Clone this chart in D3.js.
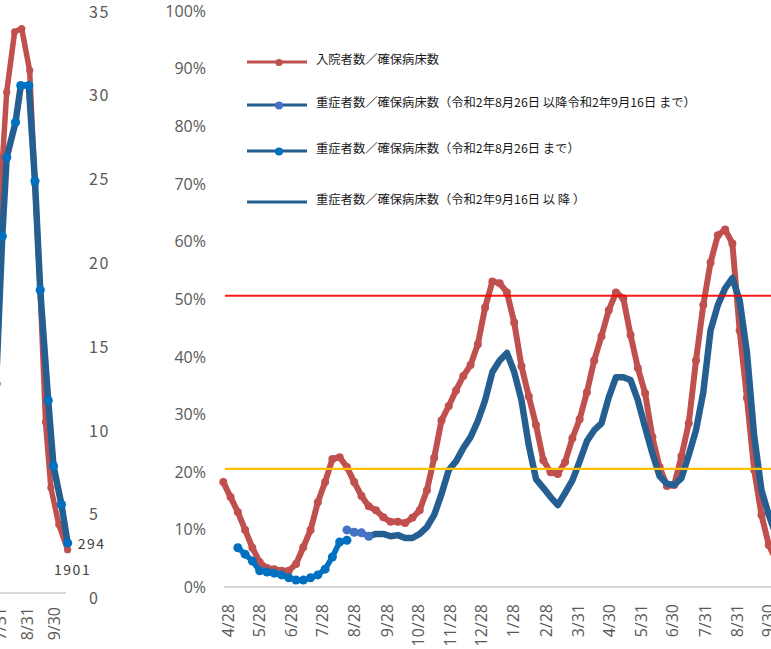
<!DOCTYPE html>
<html><head><meta charset="utf-8">
<script src="https://cdn.jsdelivr.net/npm/d3@7"></script>
<style>body{margin:0;background:#fff;overflow:hidden} svg{display:block;}</style>
</head><body><svg id="c" width="771" height="649"></svg>
<script>
// ---------- DATA ----------
// main chart: weekly points starting from mainStart (index = week number)
const mainStart = "2020-04-24";
const redValues = [18.2,15.6,13.0,9.9,6.8,4.3,3.3,3.1,2.8,2.8,4.0,6.9,9.9,14.7,18.2,22.2,22.5,20.8,18.2,15.8,
  14.0,13.3,12.1,11.3,11.3,11.1,12.0,13.3,16.8,22.4,28.9,31.4,34.1,36.6,38.5,42.1,48.5,53.0,52.7,51.1,
  45.9,38.3,33.1,28.1,22.0,19.9,19.6,21.7,25.8,29.1,33.8,39.3,43.5,48.0,51.1,50.1,43.7,38.0,33.6,26.0,
  20.8,17.5,17.7,22.7,28.4,39.3,48.9,56.3,61.0,62.0,59.6,44.5,32.8,20.3,12.5,7.3,4.7];
const sevEarlyStartWeek = 2;   // ～8/26
const sevEarlyValues = [6.8,5.7,4.5,2.8,2.6,2.4,2.1,1.6,1.2,1.2,1.6,2.1,3.1,5.2,7.8,8.1];
const sevMidStartWeek = 17;    // 8/26～9/16
const sevMidValues = [9.9,9.5,9.4,8.8];
const sevLateStartWeek = 20;   // 9/16～
const sevLateValues = [8.8,9.2,9.2,8.8,9.0,8.5,8.5,9.2,10.4,12.5,16.1,20.3,21.8,24.1,26.0,28.8,32.4,37.3,39.3,40.6,
  37.3,32.4,24.6,18.7,17.2,15.6,14.2,16.3,18.5,21.8,25.3,27.2,28.4,32.9,36.4,36.4,35.9,32.4,27.7,23.2,
  19.2,17.9,17.7,18.9,22.9,27.2,33.8,44.5,48.9,51.8,53.6,49.7,40.7,26.2,16.8,12.5,9.0];
const refRed = 50.5, refOrange = 20.5;
const yTicks = [0,10,20,30,40,50,60,70,80,90,100];
const xTickDates = ["2020-04-28","2020-05-28","2020-06-28","2020-07-28","2020-08-28","2020-09-28","2020-10-28",
  "2020-11-28","2020-12-28","2021-01-28","2021-02-28","2021-03-31","2021-04-30","2021-05-31","2021-06-30",
  "2021-07-31","2021-08-31","2021-09-30"];
const legendLabels = ["入院者数／確保病床数",
  "重症者数／確保病床数（令和2年8月26日 以降令和2年9月16日 まで）",
  "重症者数／確保病床数（令和2年8月26日 まで）",
  "重症者数／確保病床数（令和2年9月16日 以 降 ）"];

// left (cropped) chart
const leftRedDates = ["2021-07-29","2021-08-08","2021-08-17","2021-08-25","2021-09-03","2021-09-09","2021-09-15","2021-09-21","2021-09-27","2021-10-06","2021-10-16"];
const leftRedValues = [21.5,30.0,33.6,33.8,31.3,24.5,18.1,10.3,6.4,4.2,2.7];
const leftBlueDates = ["2021-07-27","2021-08-03","2021-08-08","2021-08-18","2021-08-24","2021-09-02","2021-09-09","2021-09-15","2021-09-24","2021-09-30","2021-10-09","2021-10-16"];
const leftBlueValues = [12.6,21.4,26.1,28.2,30.4,30.4,24.7,18.2,11.6,7.7,5.4,3.1];
const leftYTicks = [0,5,10,15,20,25,30,35];
const leftXTickDates = ["2021-07-31","2021-08-31","2021-09-30"];
const leftRedLabel = "1901", leftBlueLabel = "294";

// ---------- DRAW ----------
const parse = d3.timeParse("%Y-%m-%d");
const fmtTick = d3.timeFormat("%-m/%-d");
const svg = d3.select("#c");
const C_RED = "#C0504D", C_DARK = "#255E91", C_BRIGHT = "#0070C0", C_LIGHT = "#4472C4";
const NUMFONT = "'Open Sans', 'Noto Sans', sans-serif";
const JPFONT = "'Noto Sans CJK JP', sans-serif";

const weekDate = i => d3.timeDay.offset(parse(mainStart), 7 * i);
const series = (start, vals) => vals.map((v, i) => ({d: weekDate(start + i), v}));

// --- left chart ---
const xL = d3.scaleTime().domain([parse("2021-08-31"), parse("2021-09-30")]).range([27, 53.5]);
const yL = d3.scaleLinear().domain([0, 35]).range([595, 8.4]);
const gL = svg.append("g");
gL.append("line").attr("x1", 0).attr("x2", 66).attr("y1", yL(0) - 2).attr("y2", yL(0) - 2)
  .attr("stroke", "#D9D9D9").attr("stroke-width", 2);
const axL = gL.append("g").attr("transform", "translate(89,3.5)")
  .call(d3.axisRight(yL).tickValues(leftYTicks).tickSize(0).tickPadding(0));
axL.select(".domain").remove();
axL.selectAll("text").attr("font-family", JPFONT).attr("font-size", 16).attr("fill", "#595959")
  .attr("letter-spacing", 1.5);
const axLx = gL.append("g").attr("transform", `translate(0,${yL(0)})`)
  .call(d3.axisBottom(xL).tickValues(leftXTickDates.map(parse)).tickSize(0).tickFormat(fmtTick));
axLx.select(".domain").remove();
axLx.selectAll("text").attr("transform", "rotate(-90)").attr("text-anchor", "end")
  .attr("x", -12).attr("y", 0).attr("dy", "0.36em")
  .attr("font-family", NUMFONT).attr("font-size", 16).attr("fill", "#595959");

const lr = leftRedDates.map((d, i) => ({d: parse(d), v: leftRedValues[i]}));
const lb = leftBlueDates.map((d, i) => ({d: parse(d), v: leftBlueValues[i]}));
const lineL = d3.line().x(p => xL(p.d)).y(p => yL(p.v));
gL.append("path").attr("d", lineL(lr)).attr("fill", "none").attr("stroke", C_RED)
  .attr("stroke-width", 5.5).attr("stroke-linejoin", "round");
gL.selectAll(".lrm").data(lr).join("circle").attr("cx", p => xL(p.d)).attr("cy", p => yL(p.v))
  .attr("r", 3.6).attr("fill", C_RED);
gL.append("path").attr("d", lineL(lb)).attr("fill", "none").attr("stroke", C_DARK)
  .attr("stroke-width", 6.5).attr("stroke-linejoin", "round");
gL.selectAll(".lbm").data(lb).join("circle").attr("cx", p => xL(p.d)).attr("cy", p => yL(p.v))
  .attr("r", 4.6).attr("fill", C_BRIGHT);
const lbLast = lb[lb.length - 1], lrLast = lr[lr.length - 1];
gL.append("text").attr("x", xL(lbLast.d) + 10).attr("y", yL(lbLast.v) + 1).attr("dy", "0.35em")
  .attr("font-family", JPFONT).attr("font-size", 14).attr("letter-spacing", 1.5).attr("fill", "#404040")
  .text(leftBlueLabel);
gL.append("text").attr("x", xL(lrLast.d) + 5).attr("y", yL(lrLast.v) + 20).attr("dy", "0.35em")
  .attr("text-anchor", "middle")
  .attr("font-family", JPFONT).attr("font-size", 14).attr("letter-spacing", 1.5).attr("fill", "#404040")
  .text(leftRedLabel);

// --- main chart ---
const x = d3.scaleTime().domain([parse("2020-04-24"), parse("2021-09-30")]).range([223.3, 767.7]);
const y = d3.scaleLinear().domain([0, 100]).range([587, 10.5]);
const g = svg.append("g");

const axY = g.append("g").attr("transform", "translate(206,0.5)")
  .call(d3.axisLeft(y).tickValues(yTicks).tickSize(0).tickPadding(0).tickFormat(d => d + "%"));
axY.select(".domain").remove();
axY.selectAll("text").attr("font-family", NUMFONT).attr("font-size", 16).attr("fill", "#595959");

g.append("line").attr("x1", 224).attr("x2", 771).attr("y1", y(0)).attr("y2", y(0))
  .attr("stroke", "#D9D9D9").attr("stroke-width", 2);
const axX = g.append("g").attr("transform", `translate(0,${y(0)})`)
  .call(d3.axisBottom(x).tickValues(xTickDates.map(parse)).tickSize(0).tickFormat(fmtTick));
axX.select(".domain").remove();
axX.selectAll("text").attr("transform", "rotate(-90)").attr("text-anchor", "end")
  .attr("x", -17).attr("y", 0).attr("dy", "0.36em")
  .attr("font-family", NUMFONT).attr("font-size", 16).attr("fill", "#595959");

const line = d3.line().x(p => x(p.d)).y(p => y(p.v));
const red = series(0, redValues);
const early = series(sevEarlyStartWeek, sevEarlyValues);
const mid = series(sevMidStartWeek, sevMidValues);
const late = series(sevLateStartWeek, sevLateValues);

g.append("path").attr("d", line(red)).attr("fill", "none").attr("stroke", C_RED)
  .attr("stroke-width", 6).attr("stroke-linejoin", "round");
g.selectAll(".rm").data(red).join("circle").attr("cx", p => x(p.d)).attr("cy", p => y(p.v))
  .attr("r", 4).attr("fill", C_RED);

g.append("path").attr("d", line(late)).attr("fill", "none").attr("stroke", C_DARK)
  .attr("stroke-width", 6.5).attr("stroke-linejoin", "round");

g.append("path").attr("d", line(mid)).attr("fill", "none").attr("stroke", C_LIGHT)
  .attr("stroke-width", 5.5).attr("stroke-linejoin", "round");
g.selectAll(".mm").data(mid).join("circle").attr("cx", p => x(p.d)).attr("cy", p => y(p.v))
  .attr("r", 4.5).attr("fill", C_LIGHT);

g.append("path").attr("d", line(early)).attr("fill", "none").attr("stroke", C_BRIGHT)
  .attr("stroke-width", 5.5).attr("stroke-linejoin", "round");
g.selectAll(".em").data(early).join("circle").attr("cx", p => x(p.d)).attr("cy", p => y(p.v))
  .attr("r", 4.5).attr("fill", C_BRIGHT);

// reference lines
g.append("line").attr("x1", 225).attr("x2", 771).attr("y1", y(refRed)).attr("y2", y(refRed))
  .attr("stroke", "#FF0000").attr("stroke-width", 2).attr("opacity", 0.9);
g.append("line").attr("x1", 225).attr("x2", 771).attr("y1", y(refOrange)).attr("y2", y(refOrange))
  .attr("stroke", "#FFC000").attr("stroke-width", 2.2);

// legend
const legY = [62, 105, 151, 202];
const legColor = [C_RED, C_DARK, C_DARK, C_DARK];
const legMarker = [C_RED, C_LIGHT, C_BRIGHT, null];
const lg = g.append("g");
legendLabels.forEach((t, i) => {
  lg.append("line").attr("x1", 247).attr("x2", 307).attr("y1", legY[i]).attr("y2", legY[i])
    .attr("stroke", legColor[i]).attr("stroke-width", 3);
  if (legMarker[i]) lg.append("circle").attr("cx", 279).attr("cy", legY[i] + 0.5).attr("r", i === 0 ? 3.6 : 4)
    .attr("fill", legMarker[i]);
  lg.append("text").attr("x", 316).attr("y", legY[i] - 2).attr("dy", "0.35em")
    .attr("font-family", JPFONT).attr("font-size", 12.3).attr("fill", "#1a1a1a").text(t);
});
</script></body></html>
